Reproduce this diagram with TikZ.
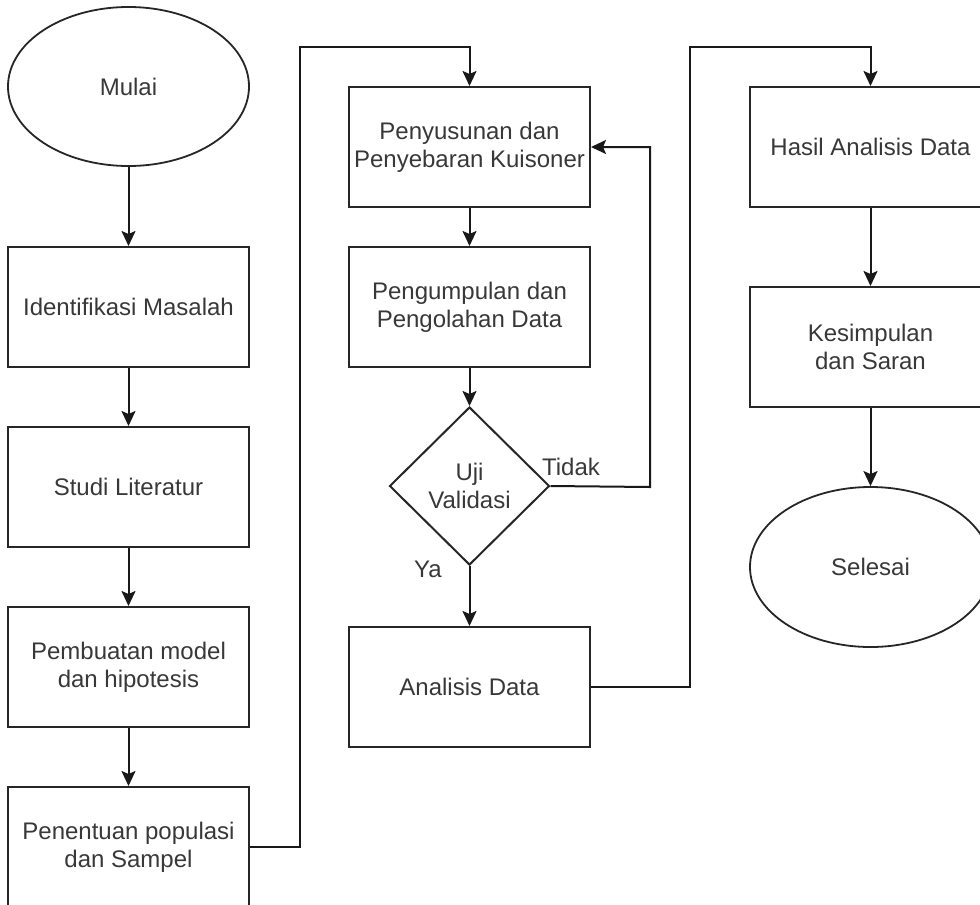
\documentclass[tikz,border=0pt]{standalone}
\usepackage{fontspec}
\setmainfont{Liberation Sans}
\usetikzlibrary{shapes.geometric,arrows.meta}
\begin{document}
\begin{tikzpicture}[x=1pt,y=-1pt,
  every node/.style={font=\fontsize{24}{28}\selectfont, text=black!78},
  stepbox/.style={draw=black!85, line width=2pt, minimum width=241pt, minimum height=120pt, inner sep=0pt, align=center},
  term/.style={ellipse, draw=black!85, line width=1.8pt, minimum width=241pt, minimum height=159pt, inner sep=0pt, align=center},
  decision/.style={diamond, draw=black!85, line width=2pt, minimum width=160pt, minimum height=158pt, inner sep=0pt, align=center},
  conn/.style={draw=black!90, line width=2pt, -{Stealth[length=15pt,width=14pt,inset=3pt]}},
  lbl/.style={inner sep=0pt}
]
\clip (0,0) rectangle (980,905);
\useasboundingbox (0,0) rectangle (980,905);
% left column
\node[term] (mulai) at (128.5,86.5) {Mulai};
\node[stepbox] (ident) at (128.5,307) {Identifikasi Masalah};
\node[stepbox] (studi) at (128.5,487) {Studi Literatur};
\node[stepbox] (pemb) at (128.5,667) {Pembuatan model\\dan hipotesis};
\node[stepbox] (pene) at (128.5,847) {Penentuan populasi\\dan Sampel};
% middle column
\node[stepbox] (susun) at (469.5,147) {Penyusunan dan\\Penyebaran Kuisoner};
\node[stepbox] (kumpul) at (469.5,307) {Pengumpulan dan\\Pengolahan Data};
\node[decision] (uji) at (469.5,486) {Uji\\Validasi};
\node[stepbox] (anal) at (469.5,687) {Analisis Data};
% right column
\node[stepbox] (hasil) at (870.5,147) {Hasil Analisis Data};
\node[stepbox] (kes) at (870.5,347) {Kesimpulan\\dan Saran};
\node[term, minimum height=160pt] (sel) at (870.5,567) {Selesai};
% connectors
\draw[conn] (mulai) -- (ident);
\draw[conn] (ident) -- (studi);
\draw[conn] (studi) -- (pemb);
\draw[conn] (pemb) -- (pene);
\coordinate (c1) at (300,47);
\draw[conn] (pene.east) -| (c1) -| (susun.north);
\draw[conn] (susun) -- (kumpul);
\draw[conn] (kumpul) -- (uji.north);
\coordinate (c2) at (650,487);
\draw[conn] (uji.east) -- (c2) |- (susun.east);
\draw[conn] (uji.south) -- (anal.north);
\coordinate (c3) at (690,47);
\draw[conn] (anal.east) -| (c3) -| (hasil.north);
\draw[conn] (hasil) -- (kes);
\draw[conn] (kes) -- (sel);
% labels
\node[lbl] (tidak) at (571,467) {Tidak};
\node[lbl] (ya) at (428,569) {Ya};
\end{tikzpicture}
\end{document}
